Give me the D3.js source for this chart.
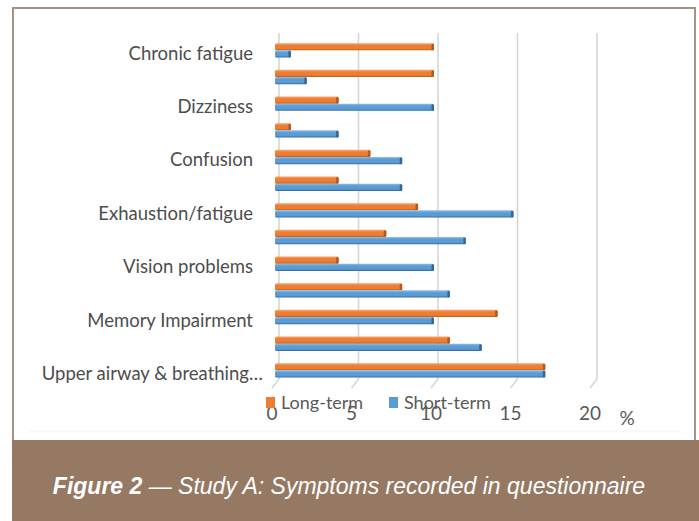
<!DOCTYPE html>
<html>
<head>
<meta charset="utf-8">
<script src="https://cdn.jsdelivr.net/npm/d3@7"></script>
<style>
  body { margin: 0; background: #fff; }
  text { font-family: Lato, "Open Sans", sans-serif; }
</style>
</head>
<body>
<div id="chart"></div>
<script>
// data, top row first
const categories = [
  "Chronic fatigue", "", "Dizziness", "", "Confusion", "",
  "Exhaustion/fatigue", "", "Vision problems", "", "Memory Impairment", "",
  "Upper airway & breathing…"
];
const longTerm  = [10, 10, 4, 1, 6, 4, 9, 7, 4, 8, 14, 11, 17];
const shortTerm = [1, 2, 10, 4, 8, 8, 15, 12, 10, 11, 10, 13, 17];
const seriesNames = ["Long-term", "Short-term"];
const xTicks = [0, 5, 10, 15, 20];
const caption = ["Figure 2", " \u2014 Study A: Symptoms recorded in questionnaire"];

const width = 699, height = 521;

const svg = d3.select("#chart")
  .append("svg")
  .attr("width", width)
  .attr("height", height);

// frame + caption band
svg.append("rect")
  .attr("x", 13).attr("y", 8)
  .attr("width", 682).attr("height", 440)
  .attr("fill", "#fff")
  .attr("stroke", "#a8927f")
  .attr("stroke-width", 2);

svg.append("rect")
  .attr("x", 12).attr("y", 440)
  .attr("width", width - 12).attr("height", height - 440)
  .attr("fill", "#957963");

const cap = svg.append("text")
  .attr("x", 349).attr("y", 494)
  .attr("text-anchor", "middle")
  .attr("fill", "#fff")
  .style("font-family", "'Liberation Sans', Arial, sans-serif")
  .style("font-size", "23px")
  .style("font-style", "italic");
cap.append("tspan").attr("font-weight", "bold").text(caption[0]);
cap.append("tspan").text(caption[1]);

// scales
const x = d3.scaleLinear().domain([0, 20]).range([275, 593]);
const y = d3.scaleBand()
  .domain(d3.range(categories.length))
  .range([37, 383.7])
  .paddingInner(0.46)
  .paddingOuter(0.23);
const ySub = d3.scaleBand().domain([0, 1]).range([0, y.bandwidth()]);

// gradients for the 3d look
const defs = svg.append("defs");
const colors = [
  { id: "gOrange", light: "#f6a46b", mid: "#ed7d31", dark: "#b65a1b" },
  { id: "gBlue", light: "#8dbbe6", mid: "#5b9bd5", dark: "#35689a" }
];
colors.forEach(c => {
  const g = defs.append("linearGradient")
    .attr("id", c.id).attr("x1", 0).attr("x2", 0).attr("y1", 0).attr("y2", 1);
  g.append("stop").attr("offset", "0%").attr("stop-color", c.light);
  g.append("stop").attr("offset", "35%").attr("stop-color", c.mid);
  g.append("stop").attr("offset", "75%").attr("stop-color", c.mid);
  g.append("stop").attr("offset", "100%").attr("stop-color", c.dark);
});

// gridlines (slightly shifted, with the little 3d floor foot)
const grid = svg.append("g");
xTicks.forEach(t => {
  grid.append("path")
    .attr("d", `M${x(t) + 4},33 L${x(t) + 4},379 L${x(t) - 3},388`)
    .attr("fill", "none")
    .attr("stroke", "#d6d6d6")
    .attr("stroke-width", 1.6);
});

// faint bottom line of the chart area
svg.append("line")
  .attr("x1", 30).attr("x2", 680).attr("y1", 431).attr("y2", 431)
  .attr("stroke", "#f2f2f2");

// bars
const rows = categories.map((c, i) => ({ i, values: [longTerm[i], shortTerm[i]] }));
const barG = svg.append("g");
rows.forEach(r => {
  r.values.forEach((v, s) => {
    const by = y(r.i) + ySub(s);
    const bh = ySub.bandwidth();
    barG.append("rect")
      .attr("x", x(0))
      .attr("y", by)
      .attr("width", x(v) - x(0))
      .attr("height", bh)
      .attr("rx", 1.5)
      .attr("fill", `url(#${colors[s].id})`);
    // end cap
    barG.append("rect")
      .attr("x", x(v) - 2.5)
      .attr("y", by + 0.5)
      .attr("width", 2.5)
      .attr("height", bh - 0.5)
      .attr("rx", 1.2)
      .attr("fill", colors[s].dark);
  });
});

// category labels
const labels = svg.append("g")
  .attr("fill", "#4d4d4d")
  .style("font-size", "18.5px");
rows.forEach(r => {
  const name = categories[r.i];
  if (!name) return;
  const cy = y(r.i) + y.bandwidth() / 2 + 3;
  if (name.endsWith("…")) {
    labels.append("text")
      .attr("x", 249).attr("y", cy).attr("dy", "0.35em")
      .attr("text-anchor", "end")
      .text(name.slice(0, -1));
    labels.append("text")
      .attr("x", 249).attr("y", cy).attr("dy", "0.35em")
      .text("…");
  } else {
    labels.append("text")
      .attr("x", 253).attr("y", cy).attr("dy", "0.35em")
      .attr("text-anchor", "end")
      .text(name);
  }
});

// x tick labels
svg.append("g")
  .attr("fill", "#595959")
  .style("font-size", "19px")
  .selectAll("text")
  .data(xTicks)
  .join("text")
  .attr("x", d => x(d) - 3)
  .attr("y", 420)
  .attr("text-anchor", "middle")
  .text(d => d);

svg.append("text")
  .attr("x", 627).attr("y", 425)
  .attr("text-anchor", "middle")
  .attr("fill", "#595959")
  .style("font-size", "19px")
  .text("%");

// legend (sits on top of the tick labels like in the original)
const legend = svg.append("g").style("font-size", "18px");
const legendX = [266, 389];
seriesNames.forEach((n, s) => {
  legend.append("rect")
    .attr("x", legendX[s]).attr("y", 397)
    .attr("width", 9).attr("height", 11)
    .attr("fill", colors[s].mid);
  legend.append("text")
    .attr("x", legendX[s] + 15).attr("y", 409)
    .attr("fill", "#595959")
    .text(n);
});
</script>
</body>
</html>
